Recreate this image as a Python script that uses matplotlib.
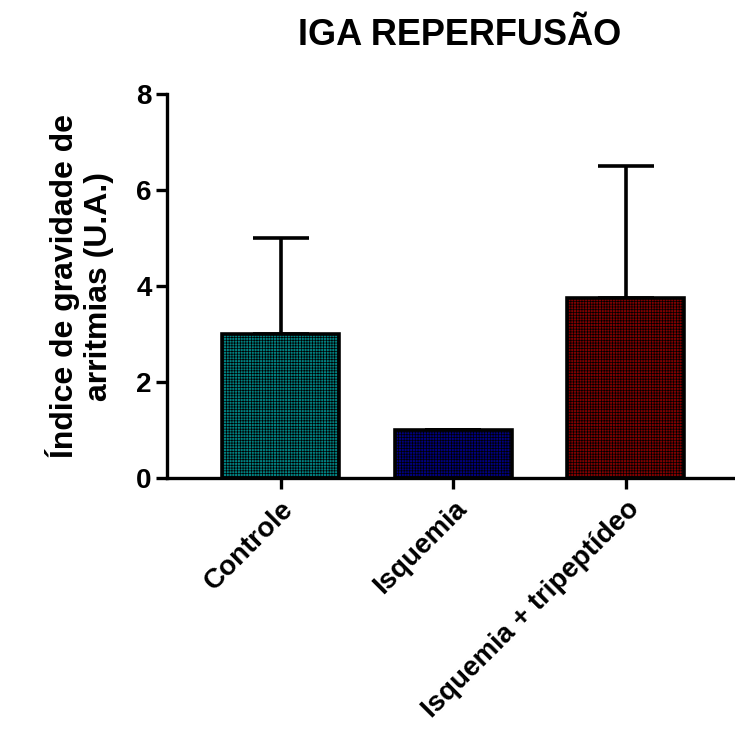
import numpy as np
import matplotlib
matplotlib.use("Agg")
import matplotlib.pyplot as plt

plt.rcParams['font.family'] = ['Liberation Sans', 'DejaVu Sans']
plt.rcParams['font.weight'] = 'bold'
plt.rcParams['hatch.linewidth'] = 0.5
plt.rcParams['hatch.color'] = 'black'

grupos = ['Controle', 'Isquemia', 'Isquemia + tripeptídeo']
medias = [3.0, 1.0, 3.75]
erros = [2.0, 0.0, 2.75]
cores = ['#008080', '#000080', '#800000']

fig = plt.figure(figsize=(7.35, 7.31), dpi=100)
ax = fig.add_axes([0.227, 0.346, 0.77, 0.525])

x = np.arange(len(grupos))
ax.bar(x, medias, width=0.68, color=cores, edgecolor='black', linewidth=2.6,
       hatch='++++++', zorder=2)
ax.errorbar(x, medias, yerr=[np.zeros(len(erros)), erros], fmt='none',
            ecolor='black', elinewidth=2.6, capsize=20.5, capthick=2.6, zorder=1)

ax.set_xlim(-0.66, 2.62)
ax.set_ylim(0, 8)
ax.set_yticks([0, 2, 4, 6, 8])
ax.set_xticks(x)
ax.set_xticklabels(grupos, rotation=45, ha='right', rotation_mode='anchor',
                   fontsize=20, fontweight='bold')
ax.tick_params(axis='y', labelsize=20, length=8, width=2.4, pad=3)
ax.tick_params(axis='x', length=8, width=2.4, pad=5)
for s in ['top', 'right']:
    ax.spines[s].set_visible(False)
for s in ['left', 'bottom']:
    ax.spines[s].set_linewidth(2.4)

ax.set_ylabel('Índice de gravidade de\narritmias (U.A.)', fontsize=23,
              fontweight='bold', labelpad=16, linespacing=1.15)
fig.text(0.626, 0.951, 'IGA REPERFUSÃO', ha='center', va='center',
         fontsize=26, fontweight='bold')

fig.savefig('out.png', dpi=100)
